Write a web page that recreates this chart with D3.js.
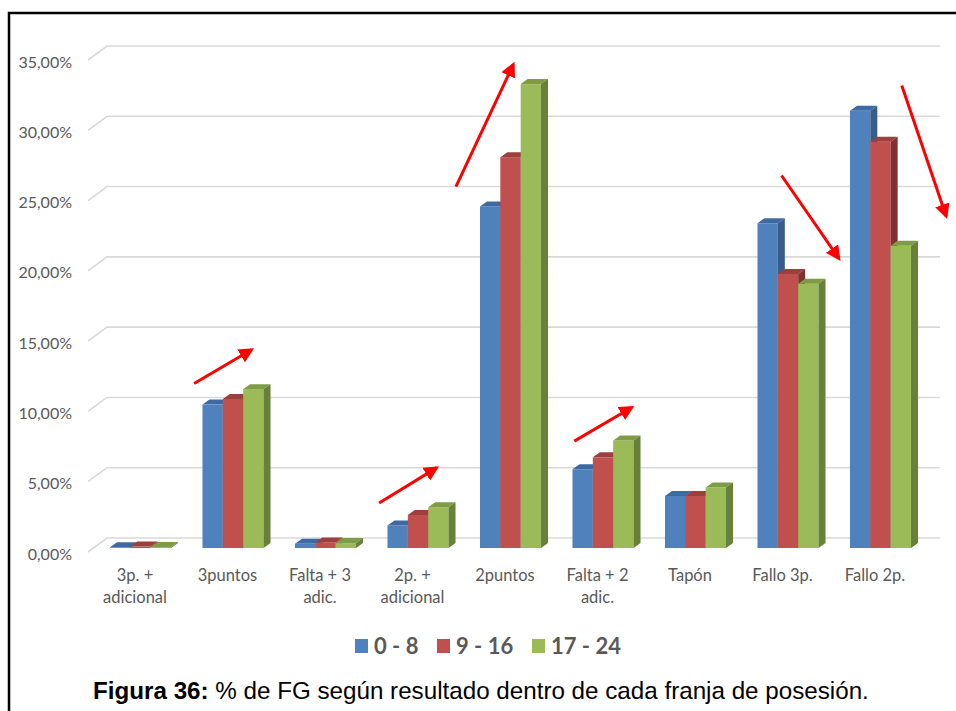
<!DOCTYPE html>
<html>
<head>
<meta charset="utf-8">
<script src="https://cdn.jsdelivr.net/npm/d3@7"></script>
<style>
  body { margin: 0; background: #fff; }
  svg { display: block; }
</style>
</head>
<body>
<svg id="chart"></svg>
<script>
// categories and series
const categories = ["3p. +\nadicional", "3puntos", "Falta + 3\nadic.", "2p. +\nadicional", "2puntos",
  "Falta + 2\nadic.", "Tapón", "Fallo 3p.", "Fallo 2p."];
const seriesNames = ["0 - 8", "9 - 16", "17 - 24"];
const values0to8 = [0.05, 10.2, 0.3, 1.6, 24.3, 5.6, 3.7, 23.1, 31.1];
const values9to16 = [0.1, 10.6, 0.4, 2.35, 27.8, 6.45, 3.7, 19.5, 28.9];
const values17to24 = [0.08, 11.3, 0.35, 2.9, 33.0, 7.65, 4.3, 18.8, 21.5];
const yTicks = [0, 5, 10, 15, 20, 25, 30, 35];

// red trend arrows: category, offsets in band steps, values in %
const arrowCats = ["3puntos", "2p. +\nadicional", "2puntos", "Falta + 2\nadic.", "Fallo 3p.", "Fallo 2p."];
const arrowFrom = [[-0.42, 11.7], [-0.42, 3.2], [-0.59, 25.7], [-0.31, 7.6], [-0.07, 26.5], [0.23, 32.9]];
const arrowTo = [[0.2, 14.1], [0.2, 5.7], [0.03, 34.4], [0.31, 10.0], [0.55, 20.6], [0.71, 23.6]];

const width = 956, height = 711;
const seriesValues = [values0to8, values9to16, values17to24];
const front = ["#4F81BD", "#C0504D", "#9BBB59"];
const top_ = ["#3E6AA3", "#9E3F3C", "#7E9C44"];
const side = ["#385D8A", "#7F3331", "#67803A"];

const svg = d3.select("#chart").attr("width", width).attr("height", height);

// frame
svg.append("path")
    .attr("d", "M9,711 V13 H956")
    .attr("fill", "none")
    .attr("stroke", "#000")
    .attr("stroke-width", 2.5);

const x = d3.scaleBand()
    .domain(categories)
    .range([94.25, 926.75])
    .paddingInner(0.34)
    .paddingOuter(0.17);

// back wall scale
const y = d3.scaleLinear().domain([0, 35]).range([538, 46]);

const floorDx = 19, floorDy = 14;     // front edge vs back wall
const barOff = 10;                   // bar front face below back wall
const depthX = 7, depthY = 5;        // bar depth

const loc = d3.formatLocale({ decimal: ",", thousands: ".", grouping: [3], currency: ["", "€"] });
const fmt = v => loc.format(".2f")(v) + "%";

// gridlines
const grid = svg.append("g");
yTicks.forEach(t => {
  grid.append("path")
      .attr("d", `M${107 - floorDx},${y(t) + floorDy} L107,${y(t)} H940`)
      .attr("fill", "none")
      .attr("stroke", "#D9D9D9")
      .attr("stroke-width", 1.6);
  svg.append("text")
      .attr("x", 72)
      .attr("y", y(t) + floorDy + 2)
      .attr("dy", "0.35em")
      .attr("text-anchor", "end")
      .attr("font-family", "Lato, sans-serif")
      .attr("font-size", 16)
      .attr("fill", "#595959")
      .text(fmt(t));
});

// bars
const bw = x.bandwidth() / 3;
const yb = v => y(v) + barOff;
const bars = svg.append("g");
categories.forEach((c, ci) => {
  seriesValues.forEach((vals, si) => {
    const v = vals[ci];
    const x0 = x(c) + si * bw, x1 = x0 + bw;
    const yt = yb(v), y0 = yb(0);
    bars.append("rect")
        .attr("x", x0).attr("y", yt)
        .attr("width", bw).attr("height", y0 - yt)
        .attr("fill", front[si]);
    bars.append("path")
        .attr("d", `M${x0},${yt} L${x0 + depthX},${yt - depthY} L${x1 + depthX},${yt - depthY} L${x1},${yt} Z`)
        .attr("fill", top_[si]);
    bars.append("path")
        .attr("d", `M${x1},${yt} L${x1 + depthX},${yt - depthY} L${x1 + depthX},${y0 - depthY} L${x1},${y0} Z`)
        .attr("fill", side[si]);
  });
});

// category labels
const labels = svg.append("g")
    .attr("font-family", "Lato, sans-serif")
    .attr("font-size", 16.5)
    .attr("fill", "#595959")
    .attr("text-anchor", "middle");
categories.forEach(c => {
  const t = labels.append("text")
      .attr("x", x(c) + x.bandwidth() / 2 - 5.5)
      .attr("y", 581);
  c.split("\n").forEach((line, i) => {
    t.append("tspan")
        .attr("x", x(c) + x.bandwidth() / 2 - 5.5)
        .attr("dy", i === 0 ? 0 : 22)
        .text(line);
  });
});

// arrows
const step = x.step();
const cx = c => x(c) + x.bandwidth() / 2;
svg.append("defs").append("marker")
    .attr("id", "head")
    .attr("viewBox", "0 0 10 10")
    .attr("refX", 8).attr("refY", 5)
    .attr("markerWidth", 5).attr("markerHeight", 5)
    .attr("markerUnits", "strokeWidth")
    .attr("orient", "auto")
  .append("path")
    .attr("d", "M0,0 L10,5 L0,10 Z")
    .attr("fill", "#FF0000");
arrowCats.forEach((c, i) => {
  svg.append("line")
      .attr("x1", cx(c) + arrowFrom[i][0] * step)
      .attr("y1", yb(arrowFrom[i][1]))
      .attr("x2", cx(c) + arrowTo[i][0] * step)
      .attr("y2", yb(arrowTo[i][1]))
      .attr("stroke", "#FF0000")
      .attr("stroke-width", 3)
      .attr("marker-end", "url(#head)");
});

// legend
const legend = svg.append("g")
    .attr("font-family", "Lato, sans-serif")
    .attr("font-weight", "bold")
    .attr("font-size", 22)
    .attr("fill", "#595959");
const legX = [355, 437, 532];
seriesNames.forEach((s, i) => {
  legend.append("rect")
      .attr("x", legX[i]).attr("y", 639)
      .attr("width", 13).attr("height", 14)
      .attr("fill", front[i]);
  legend.append("text")
      .attr("x", legX[i] + 19).attr("y", 646)
      .attr("dy", "0.36em")
      .text(s);
});

// caption
const cap = svg.append("text")
    .attr("x", 93).attr("y", 699)
    .attr("font-family", "Liberation Sans, Arial, sans-serif")
    .attr("font-size", 24.2)
    .attr("fill", "#000");
cap.append("tspan").attr("font-weight", "bold").text("Figura 36:");
cap.append("tspan").text(" % de FG según resultado dentro de cada franja de posesión.");
</script>
</body>
</html>
